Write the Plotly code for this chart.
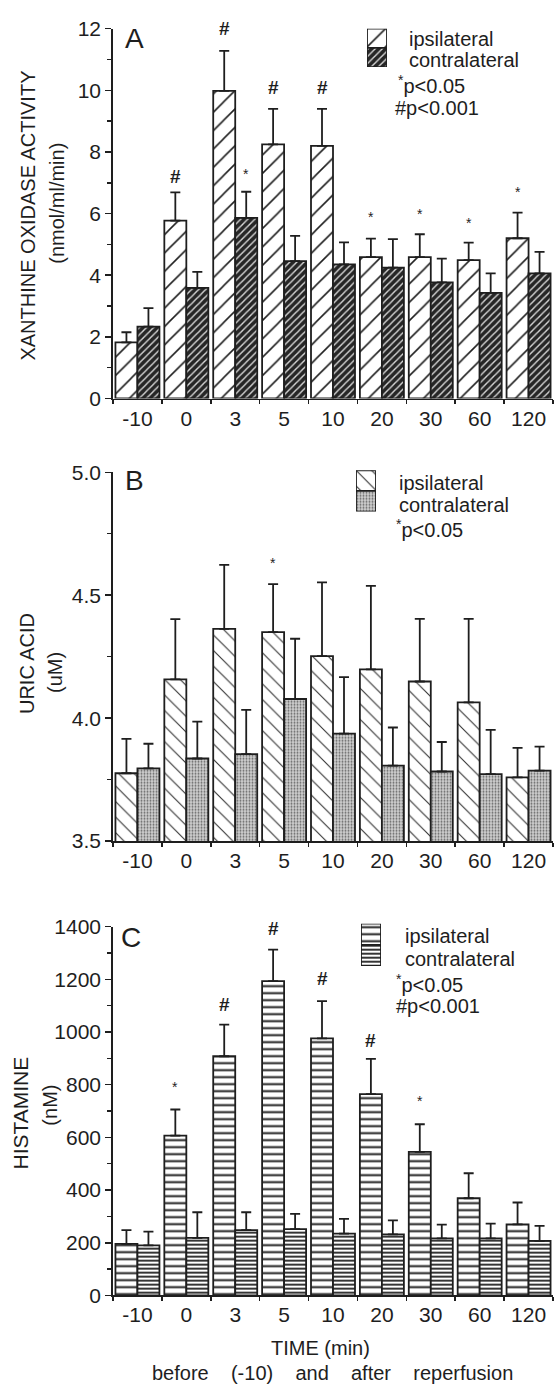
import plotly.graph_objects as go

# ---------------- data ----------------
categories = ["-10", "0", "3", "5", "10", "20", "30", "60", "120"]

# Panel A: xanthine oxidase activity (nmol/ml/min)
xo_ipsi = [1.82, 5.77, 9.98, 8.25, 8.2, 4.59, 4.59, 4.49, 5.2]
xo_ipsi_err = [0.33, 0.92, 1.3, 1.15, 1.2, 0.6, 0.74, 0.57, 0.83]
xo_contra = [2.33, 3.59, 5.86, 4.46, 4.35, 4.25, 3.77, 3.43, 4.06]
xo_contra_err = [0.6, 0.52, 0.85, 0.82, 0.72, 0.92, 0.77, 0.63, 0.7]

# Panel B: uric acid (uM)
ua_ipsi = [3.776, 4.158, 4.363, 4.35, 4.252, 4.198, 4.149, 4.064, 3.759]
ua_ipsi_err = [0.14, 0.245, 0.26, 0.195, 0.30, 0.34, 0.255, 0.34, 0.12]
ua_contra = [3.796, 3.836, 3.854, 4.078, 3.937, 3.807, 3.783, 3.772, 3.787]
ua_contra_err = [0.10, 0.15, 0.18, 0.245, 0.23, 0.155, 0.12, 0.18, 0.097]

# Panel C: histamine (nM)
hi_ipsi = [196, 607, 908, 1193, 976, 764, 545, 369, 270]
hi_ipsi_err = [52, 99, 120, 120, 141, 134, 105, 95, 83]
hi_contra = [190, 219, 248, 252, 235, 232, 217, 217, 207]
hi_contra_err = [52, 97, 68, 58, 56, 53, 52, 56, 57]

# significance marks: (category, series, symbol, y)
sig_A_cat = ["0", "3", "3", "5", "10", "20", "30", "60", "120"]
sig_A_series = ["ipsi", "ipsi", "contra", "ipsi", "ipsi", "ipsi", "ipsi", "ipsi", "ipsi"]
sig_A_sym = ["#", "#", "*", "#", "#", "*", "*", "*", "*"]
sig_A_y = [7.22, 12.0, 7.3, 10.09, 10.09, 5.9, 6.0, 5.7, 6.7]

sig_B_cat = ["5"]
sig_B_series = ["ipsi"]
sig_B_sym = ["*"]
sig_B_y = [4.63]

sig_C_cat = ["0", "3", "5", "10", "20", "30"]
sig_C_series = ["ipsi", "ipsi", "ipsi", "ipsi", "ipsi", "ipsi"]
sig_C_sym = ["*", "#", "#", "#", "#", "*"]
sig_C_y = [790, 1103, 1394, 1202, 967, 740]

# ---------------- geometry helpers ----------------
W, H = 555, 1394
FONT = "Liberation Sans, Arial, Helvetica, sans-serif"
INK = "#1e1e1e"


def px(x):
    return x / W


def py(y):
    return 1 - y / H


styles = {
    "A": {
        "ipsi": dict(color="white", pattern=dict(shape="/", fgcolor=INK, bgcolor="white", size=13, solidity=0.12, fillmode="replace")),
        "contra": dict(color="#262626", pattern=dict(shape="/", fgcolor="#d8d8d8", bgcolor="#262626", size=5, solidity=0.28, fillmode="replace")),
    },
    "B": {
        "ipsi": dict(color="white", pattern=dict(shape="\\", fgcolor="#333333", bgcolor="white", size=11, solidity=0.1, fillmode="replace")),
        "contra": dict(color="#c4c4c4", pattern=dict(shape=".", fgcolor="#666666", bgcolor="#d2d2d2", size=3, solidity=0.35, fillmode="replace")),
    },
    "C": {
        "ipsi": dict(color="white", pattern=dict(shape="-", fgcolor=INK, bgcolor="white", size=7, solidity=0.28, fillmode="replace")),
        "contra": dict(color="white", pattern=dict(shape="-", fgcolor=INK, bgcolor="white", size=4, solidity=0.45, fillmode="replace")),
    },
}

panels = [
    ("A", "x", "y", xo_ipsi, xo_ipsi_err, xo_contra, xo_contra_err),
    ("B", "x2", "y2", ua_ipsi, ua_ipsi_err, ua_contra, ua_contra_err),
    ("C", "x3", "y3", hi_ipsi, hi_ipsi_err, hi_contra, hi_contra_err),
]

fig = go.Figure()

for key, xa, ya, iv, ie, cv, ce in panels:
    for name, vals, errs in (("ipsi", iv, ie), ("contra", cv, ce)):
        st = styles[key][name]
        fig.add_trace(go.Bar(
            x=categories, y=vals, xaxis=xa, yaxis=ya,
            marker=dict(color=st["color"], pattern=st["pattern"], line=dict(color=INK, width=1.8)),
            error_y=dict(type="data", symmetric=False, array=errs, arrayminus=[0] * len(errs),
                         color=INK, thickness=1.8, width=5),
            name=name, showlegend=False,
        ))

# legend swatches (drawn on small helper axes)
swatch_axes = [("A", "x4", "y4"), ("B", "x5", "y5"), ("C", "x6", "y6")]
for key, xa, ya in swatch_axes:
    for name, base in (("ipsi", 1), ("contra", 0)):
        st = styles[key][name]
        fig.add_trace(go.Bar(
            x=[0], y=[1], base=[base], width=[1], offset=-0.5, xaxis=xa, yaxis=ya,
            marker=dict(color=st["color"], pattern=st["pattern"], line=dict(color=INK, width=1.8)),
            showlegend=False, hoverinfo="skip",
        ))

# ---------------- axes ----------------
xdom = [px(113), px(553)]
ydoms = {"A": [py(393), py(17)], "B": [py(843), py(468)], "C": [py(1305), py(930)]}

TICKSIZE = 21
common_x = dict(type="category", range=[-0.5, 8.5], domain=xdom, showline=True, linecolor=INK, linewidth=1.8,
                ticks="outside", tickson="boundaries", ticklen=4, tickwidth=1.5, tickcolor=INK,
                showgrid=False, zeroline=False, tickfont=dict(family=FONT, size=TICKSIZE, color=INK),
                categoryorder="array", categoryarray=categories, fixedrange=True)
common_y = dict(showline=True, linecolor=INK, linewidth=1.8, ticks="outside", ticklen=6, tickwidth=1.5,
                tickcolor=INK, showgrid=False, zeroline=False,
                tickfont=dict(family=FONT, size=TICKSIZE, color=INK), fixedrange=True)

fig.update_layout(
    xaxis=dict(common_x, anchor="y"),
    xaxis2=dict(common_x, anchor="y2"),
    xaxis3=dict(common_x, anchor="y3"),
    yaxis=dict(common_y, anchor="x", domain=ydoms["A"], range=[0, 12], dtick=2, tick0=0,
               minor=dict(ticks="outside", dtick=1, ticklen=4, tickcolor=INK, tickwidth=1.5)),
    yaxis2=dict(common_y, anchor="x2", domain=ydoms["B"], range=[3.5, 5.0], dtick=0.5, tick0=3.5,
                tickformat=".1f",
                minor=dict(ticks="outside", dtick=0.25, ticklen=4, tickcolor=INK, tickwidth=1.5)),
    yaxis3=dict(common_y, anchor="x3", domain=ydoms["C"], range=[0, 1400], dtick=200, tick0=0,
                minor=dict(ticks="outside", dtick=100, ticklen=4, tickcolor=INK, tickwidth=1.5)),
)

# helper swatch axes
swatch_boxes = {"A": (367, 387, 17, 56), "B": (356, 376, 466, 508), "C": (361, 381, 927, 970)}
for i, key in enumerate(["A", "B", "C"]):
    x0, x1, y0, y1 = swatch_boxes[key]
    n = 4 + i
    fig.update_layout(**{
        f"xaxis{n}": dict(domain=[px(x0), px(x1)], range=[-0.5, 0.5], visible=False, anchor=f"y{n}", fixedrange=True),
        f"yaxis{n}": dict(domain=[py(y1), py(y0)], range=[0, 2], visible=False, anchor=f"x{n}", fixedrange=True),
    })

fig.update_layout(
    width=W, height=H, margin=dict(l=0, r=0, t=0, b=0),
    paper_bgcolor="white", plot_bgcolor="rgba(0,0,0,0)",
    barmode="group", bargap=0.1, bargroupgap=0.0, showlegend=False,
    font=dict(family=FONT, color=INK),
)

ann = []


def text(x, y, s, size=20, xanchor="left", angle=0, yanchor="middle"):
    ann.append(dict(x=px(x), y=py(y), xref="paper", yref="paper", text=s, showarrow=False,
                    xanchor=xanchor, yanchor=yanchor, textangle=angle,
                    font=dict(family=FONT, size=size, color=INK)))


# panel letters
text(134, 27, "A", size=28, xanchor="center")
text(134, 476, "B", size=28, xanchor="center")
text(131, 941, "C", size=28, xanchor="center")

# y-axis titles
text(28, 207, "XANTHINE OXIDASE ACTIVITY", size=20, xanchor="center", angle=-90)
text(57, 195, "(nmol/ml/min)", size=20, xanchor="center", angle=-90)
text(27, 663, "URIC ACID", size=20, xanchor="center", angle=-90)
text(55, 672, "(uM)", size=20, xanchor="center", angle=-90)
text(21, 1120, "HISTAMINE", size=21, xanchor="center", angle=-90)
text(50, 1112, "(nM)", size=20, xanchor="center", angle=-90)

# legend texts
text(407, 27, "ipsilateral")
text(407, 49, "contralateral")
text(396, 74, "<sup>*</sup>p&lt;0.05")
text(393, 98, "#p&lt;0.001")

text(397, 479, "ipsilateral")
text(397, 501, "contralateral")
text(394, 525, "<sup>*</sup>p&lt;0.05")

text(403, 940, "ipsilateral")
text(403, 963, "contralateral")
text(394, 988, "<sup>*</sup>p&lt;0.05")
text(394, 1011, "#p&lt;0.001")

# bottom titles
GAP = "\u00a0\u00a0\u00a0 "
text(320, 1358, "TIME (min)", size=20, xanchor="center")
text(332, 1384, "before" + GAP + "(-10)" + GAP + "and" + GAP + "after" + GAP + "reperfusion", size=20, xanchor="center")

# significance markers (x given as category index on the category axis)
for xa, ya, cats, sers, syms, ys in (("x", "y", sig_A_cat, sig_A_series, sig_A_sym, sig_A_y),
                                     ("x2", "y2", sig_B_cat, sig_B_series, sig_B_sym, sig_B_y),
                                     ("x3", "y3", sig_C_cat, sig_C_series, sig_C_sym, sig_C_y)):
    for c, s, sym, yv in zip(cats, sers, syms, ys):
        ann.append(dict(x=categories.index(c), y=yv, xref=xa, yref=ya,
                        text="<b>#</b>" if sym == "#" else sym, showarrow=False,
                        xshift=-11 if s == "ipsi" else 11, yanchor="middle",
                        font=dict(family=FONT, size=19 if sym == "#" else 14, color=INK)))

fig.update_layout(annotations=ann)

fig.write_html(
    "out.html",
    config={"displayModeBar": False, "staticPlot": True},
    post_script="document.body.style.margin='0';document.body.style.overflow='hidden';",
)
